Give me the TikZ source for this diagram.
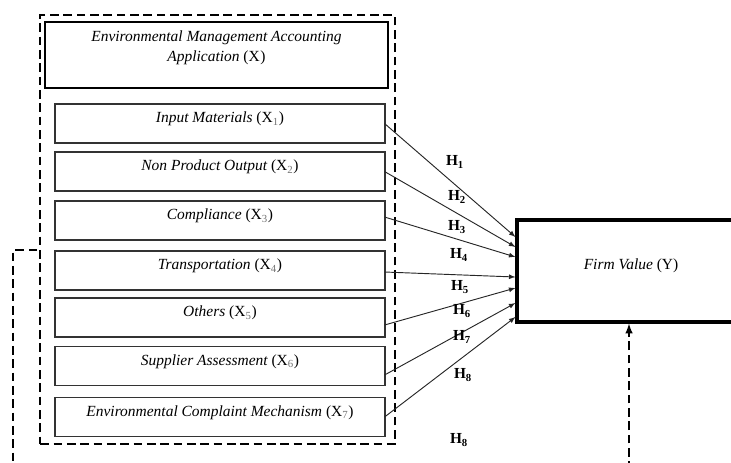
\documentclass[tikz,border=0pt]{standalone}
\usepackage{fontspec}
\setmainfont{Liberation Serif}
\usetikzlibrary{calc,positioning}

\newcommand{\xsub}[1]{{\upshape(X\textsubscript{\textcolor{black!55}{#1}})}}
\newcommand{\hyp}[1]{\textbf{H\textsubscript{#1}}}

\tikzset{
  dimbox/.style={draw=black!80,line width=0.8pt,minimum width=247.5pt,
    inner ysep=0pt,text height=14pt,text depth=15.25pt,font=\itshape\fontsize{11.6}{15}\selectfont},
  mainbox/.style={draw,line width=1.6pt,minimum width=257pt,minimum height=49.5pt,inner sep=0pt},
  valbox/.style={draw,line width=2.3pt,minimum width=171pt,inner ysep=0pt,
    text height=36.75pt,text depth=39.75pt,font=\itshape\fontsize{11.6}{15}\selectfont},
  dashframe/.style={draw,line width=1.5pt,dash pattern=on 6.5pt off 3.5pt,
    minimum width=266pt,minimum height=321.75pt,inner sep=0pt},
  modline/.style={line width=1.5pt,dash pattern=on 6.5pt off 3.5pt},
  hlabel/.style={font=\fontsize{11.5}{13}\selectfont,inner sep=0pt},
}

\begin{document}
\begin{tikzpicture}[>=latex,thick,x=0.75pt,y=-0.75pt]

\useasboundingbox (0,0) rectangle (731,462);

% X block
\node[dashframe] (frame) at (217.5,229.5) {};
\node[mainbox] (ema) at (216.5,55) {};
\node[below=4pt of ema.north,align=center,font=\itshape\fontsize{11.6}{15}\selectfont] (ematext)
  {Environmental Management Accounting\\Application \xsub{}};

\node[dimbox] (x1) at (220,123.5) {Input Materials \xsub{1}};
\node[dimbox] (x2) at (220,171.5) {Non Product Output \xsub{2}};
\node[dimbox] (x3) at (220,220.5) {Compliance \xsub{3}};
\node[dimbox] (x4) at (220,270.5) {Transportation \xsub{4}};
\node[dimbox] (x5) at (220,317.5) {Others \xsub{5}};
\node[dimbox] (x6) at (220,366) {Supplier Assessment \xsub{6}};
\node[dimbox] (x7) at (220,417) {Environmental Complaint Mechanism \xsub{7}};

% Y
\node[valbox] (fv) at (631,271) {Firm Value {\upshape(Y)}};

% paths
\foreach \s/\a/\b in {x1/0/-34,x2/0/-24,x3/-3.5/-14,x4/1.5/6,x5/7.5/17,x6/9/32,x7/0/46}
  \draw[->,line width=0.7pt,black!85] ($(\s.east)+(-1,\a)$) -- ($(fv.west)+(0,\b)$);

\node[hlabel] (h1) at (455,162) {\hyp{1}};
\node[hlabel] (h2) at (457,197) {\hyp{2}};
\node[hlabel] (h3) at (457,227) {\hyp{3}};
\node[hlabel] (h4) at (459,255) {\hyp{4}};
\node[hlabel] (h5) at (460,287) {\hyp{5}};
\node[hlabel] (h6) at (462,311) {\hyp{6}};
\node[hlabel] (h7) at (462,337) {\hyp{7}};
\node[hlabel] (h8) at (463,375) {\hyp{8}};
\node[hlabel] (h9) at (459,440) {\hyp{8}};

% moderating path
\coordinate (m1) at (13,250);
\coordinate (m2) at (13,470);
\coordinate (m3) at (629,470);
\draw[modline] ([xshift=-1.5pt]frame.west |- m1) -- (m1) -- (m2);
\draw[modline,->] (m3) -- (fv.south -| m3);

\end{tikzpicture}
\end{document}
